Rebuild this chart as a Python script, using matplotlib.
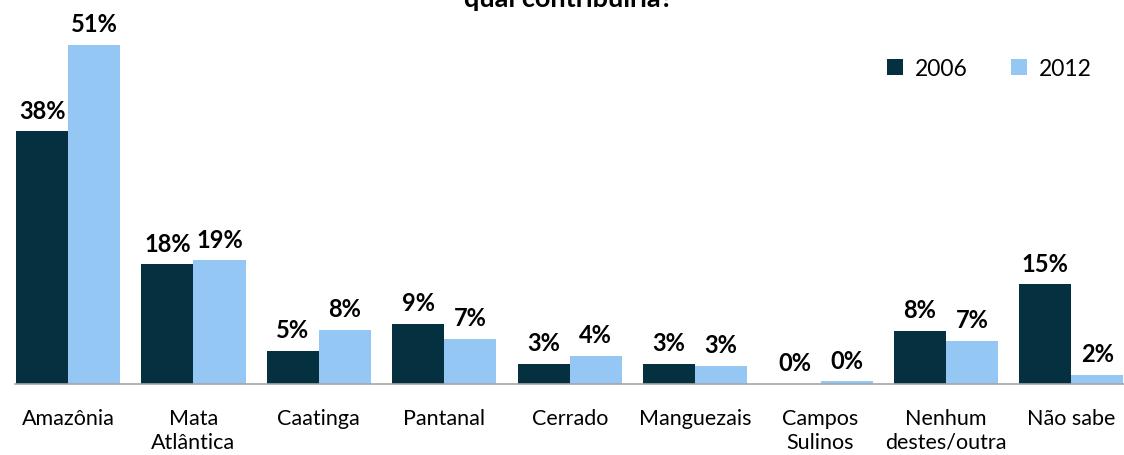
import numpy as np
import matplotlib
matplotlib.use("Agg")
import matplotlib.pyplot as plt

plt.rcParams['font.family'] = ['Lato', 'DejaVu Sans']

categorias = ["Amazônia", "Mata\nAtlântica", "Caatinga", "Pantanal", "Cerrado",
              "Manguezais", "Campos\nSulinos", "Nenhum\ndestes/outra", "Não sabe"]
v2006 = [38, 18, 5, 9, 3, 3, 0, 8, 15]
v2012 = [51, 18.6, 8.1, 6.8, 4.2, 2.7, 0.4, 6.5, 1.4]
rot2006 = ["38%", "18%", "5%", "9%", "3%", "3%", "0%", "8%", "15%"]
rot2012 = ["51%", "19%", "8%", "7%", "4%", "3%", "0%", "7%", "2%"]

cor_2006 = "#04303F"
cor_2012 = "#95C7F5"

fig = plt.figure(figsize=(11.24, 4.56), dpi=100)
# eixo vai ate a borda direita (grafico recortado)
ax = fig.add_axes([15/1124, 1 - 385/456, 1 - 15/1124, (385 - 46)/456 * 56/51])

x = np.arange(len(categorias))
w = 0.415
b1 = ax.bar(x - w/2, v2006, w, color=cor_2006, label="2006")
b2 = ax.bar(x + w/2, v2012, w, color=cor_2012, label="2012")

for barra, txt in zip(b1, rot2006):
    ax.annotate(txt, (barra.get_x() + barra.get_width()/2, barra.get_height()),
                xytext=(0, 7), textcoords="offset points", ha="center", va="bottom",
                fontsize=17, fontweight="bold")
for barra, txt in zip(b2, rot2012):
    ax.annotate(txt, (barra.get_x() + barra.get_width()/2, barra.get_height()),
                xytext=(0, 7), textcoords="offset points", ha="center", va="bottom",
                fontsize=17, fontweight="bold")

ax.set_xlim(-0.423, 8.42)
ax.set_ylim(0, 56)
ax.set_xticks(x)
ax.set_xticklabels(categorias, fontsize=15.5, linespacing=1.25)
ax.tick_params(axis="x", length=0, pad=17)
ax.set_yticks([])
for lado in ["top", "right", "left"]:
    ax.spines[lado].set_visible(False)
ax.spines["bottom"].set_color("#A6A6A6")
ax.spines["bottom"].set_linewidth(1.2)

ax.legend(loc="upper right", bbox_to_anchor=(1112/1124, 1 - 38/456),
          bbox_transform=fig.transFigure, ncol=2, frameon=False, fontsize=16.5,
          handlelength=0.7, handleheight=0.7, columnspacing=1.9, handletextpad=0.5)

fig.text(568/1124, 1 - 7/456, "qual contribuiria?", ha="center", va="baseline",
         fontsize=19.5, fontweight="bold")

fig.savefig("out.png", dpi=100)
